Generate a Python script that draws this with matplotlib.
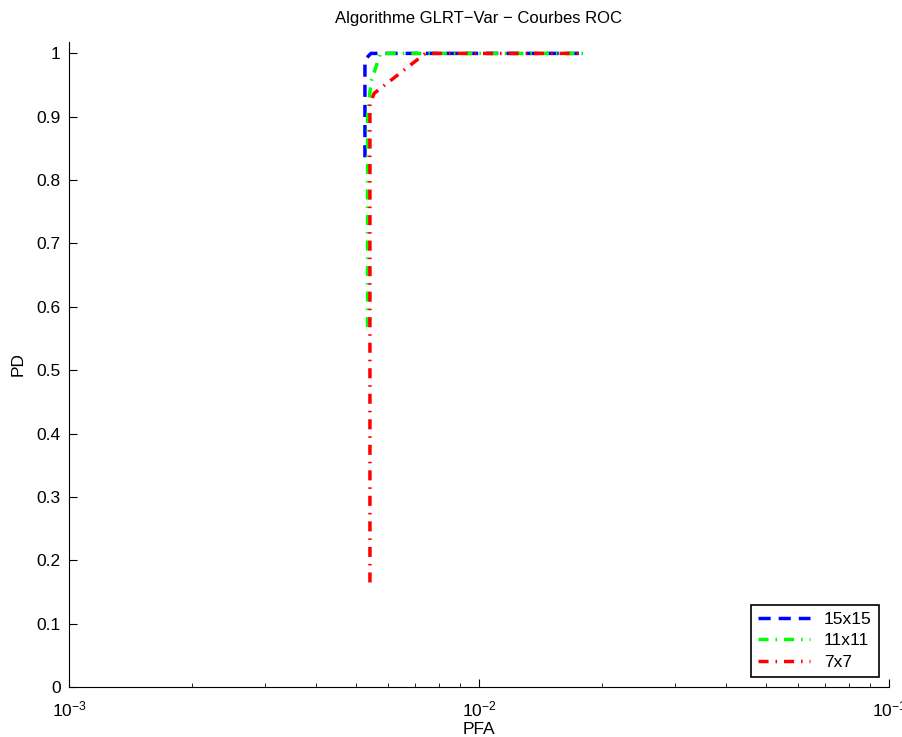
import matplotlib
matplotlib.use('Agg')
import matplotlib.pyplot as plt
from matplotlib.ticker import LogLocator, NullFormatter

plt.rcParams['font.family'] = ['Liberation Sans', 'DejaVu Sans']

# ROC curves (PFA, PD)
pfa_15 = [5.27e-3, 5.27e-3, 5.45e-3, 1.8e-2]
pd_15 = [0.836, 0.99, 1.0, 1.0]

pfa_11 = [5.35e-3, 5.35e-3, 5.45e-3, 5.75e-3, 1.8e-2]
pd_11 = [0.568, 0.90, 0.955, 1.0, 1.0]

pfa_7 = [5.42e-3, 5.42e-3, 5.55e-3, 7.4e-3, 1.8e-2]
pd_7 = [0.165, 0.92, 0.937, 1.0, 1.0]

labels = ['15x15', '11x11', '7x7']

dashed = (0, (3.5, 2.3))
dashdot = (0, (2.9, 2.0, 0.45, 2.0))

fig = plt.figure(figsize=(9.03, 7.37), dpi=100)
ax = fig.add_axes([69 / 903, 50 / 737, 820 / 903, 645 / 737])

ax.plot(pfa_15, pd_15, color='blue', linestyle=dashed, linewidth=2.5, label=labels[0])
ax.plot(pfa_11, pd_11, color='#00ff00', linestyle=dashdot, linewidth=2.5, label=labels[1])
ax.plot(pfa_7, pd_7, color='red', linestyle=dashdot, linewidth=2.5, label=labels[2])

ax.set_xscale('log')
ax.set_xlim(1e-3, 1e-1)
ax.set_ylim(0, 1.018)
ax.set_yticks([i / 10 for i in range(11)])
ax.set_yticklabels(['0', '0.1', '0.2', '0.3', '0.4', '0.5', '0.6', '0.7', '0.8', '0.9', '1'])
ax.xaxis.set_minor_locator(LogLocator(base=10, subs=range(2, 10)))
ax.xaxis.set_minor_formatter(NullFormatter())

for s in ['top', 'right']:
    ax.spines[s].set_visible(False)
ax.tick_params(which='both', direction='in', labelsize=12.5)
ax.tick_params(which='major', length=6)
ax.tick_params(which='minor', length=3)
ax.tick_params(axis='x', which='major', pad=9)
ax.tick_params(axis='y', which='major', pad=6)

ax.set_xlabel('PFA', fontsize=12.5, labelpad=2)
ax.set_ylabel('PD', fontsize=12.5, labelpad=8)
ax.set_title('Algorithme GLRT\u2212Var \u2212 Courbes ROC', fontsize=12, pad=14)

leg = ax.legend(loc='lower right', fontsize=12.5, fancybox=False, framealpha=1,
                edgecolor='black', handlelength=3.0, borderaxespad=0.6,
                labelspacing=0.35)
leg.get_frame().set_linewidth(1.2)

fig.savefig('out.png', dpi=100)
